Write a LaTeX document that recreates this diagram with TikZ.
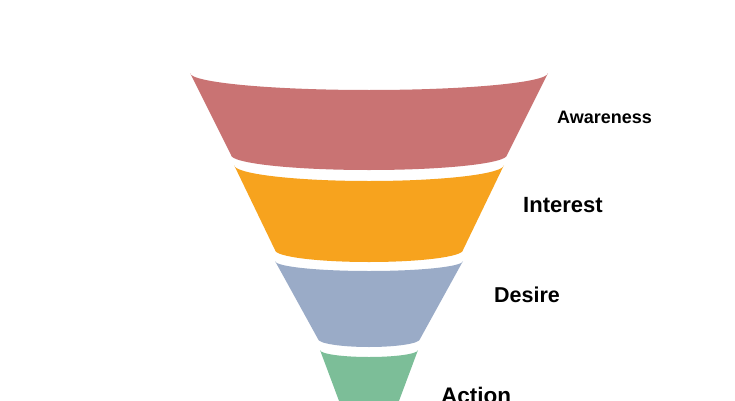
\documentclass[tikz,border=0pt]{standalone}
\usepackage{fontspec}
\setmainfont{Liberation Sans}
\definecolor{bandred}{RGB}{201,115,115}
\definecolor{bandorange}{RGB}{247,163,30}
\definecolor{bandblue}{RGB}{154,171,199}
\definecolor{bandgreen}{RGB}{124,190,152}
% #1 colour, #2 top y, #3 top half width, #4 top sag, #5 bottom y, #6 bottom half width, #7 bottom sag
\newcommand\funnelband[7]{%
  \fill[#1] (369-#3,#2) -- (369-#6,#5)
    arc[start angle=180, end angle=360, x radius=#6, y radius=#7]
    -- (369+#3,#2)
    arc[start angle=0, end angle=-180, x radius=#3, y radius=#4] -- cycle;}
\tikzset{stagelabel/.style={anchor=base west, inner sep=0pt, font=\bfseries}}
\begin{document}
\begin{tikzpicture}[x=1pt,y=1pt]
\useasboundingbox (0,0) rectangle (735,400);
\clip (0,0) rectangle (735,400);
\fill[white] (0,0) rectangle (735,400);
\funnelband{bandred}{327}{179}{17}{245}{138}{15}
\funnelband{bandorange}{235}{135}{16}{150}{94}{12}
\funnelband{bandblue}{139}{94}{10}{61}{51}{8}
\funnelband{bandgreen}{50}{49}{7}{-25}{21}{5}
\node[stagelabel] (awareness) at (557,276.7) {\fontsize{18}{21}\selectfont Awareness};
\node[stagelabel] (interest) at (523,188) {\fontsize{22}{25}\selectfont Interest};
\node[stagelabel] (desire) at (494,97.3) {\fontsize{21.5}{25}\selectfont Desire};
\node[stagelabel] (action) at (441,-3) {\fontsize{22.5}{26}\selectfont Action};
\end{tikzpicture}
\end{document}
